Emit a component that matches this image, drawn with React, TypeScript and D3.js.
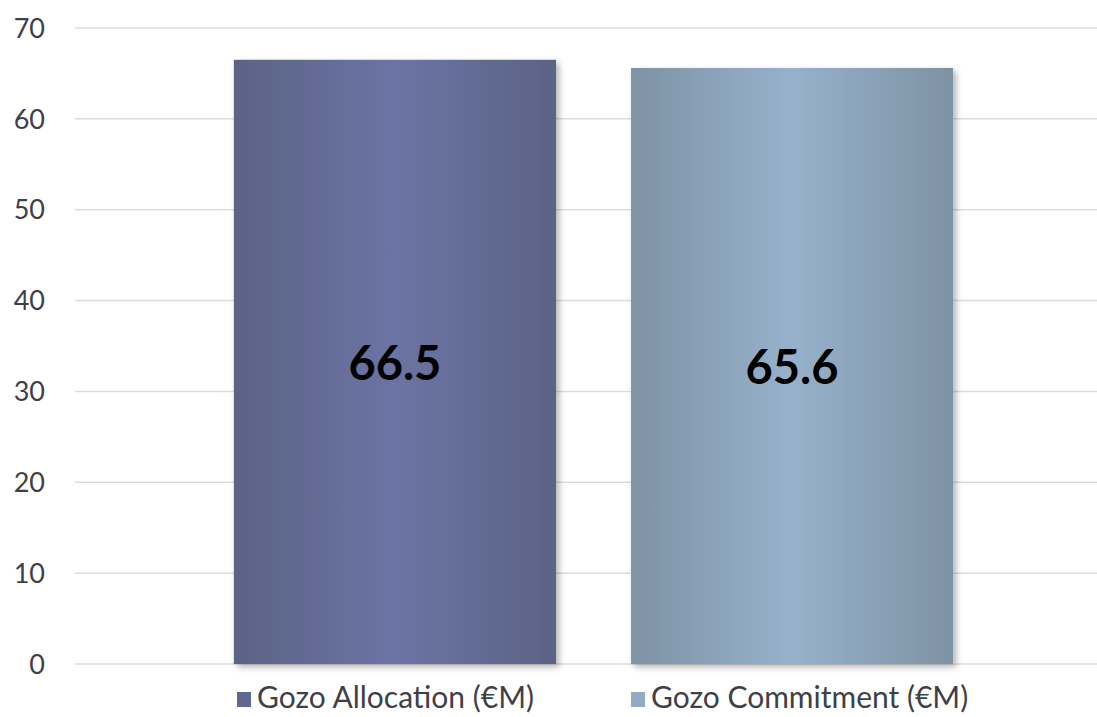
import React from "react";
import * as d3 from "d3";

const seriesNames = ["Gozo Allocation (€M)", "Gozo Commitment (€M)"];
const seriesValues = [66.5, 65.6];
const valueLabels = ["66.5", "65.6"];
const yTicks = [0, 10, 20, 30, 40, 50, 60, 70];

const W = 1097;
const H = 717;
const M = { left: 75, right: 1112, top: 28, bottom: 664 };

const gradStops = [
  [
    { o: 0, c: "#5b6385" },
    { o: 0.5, c: "#6b74a4" },
    { o: 1, c: "#5b6384" },
  ],
  [
    { o: 0, c: "#7e93a4" },
    { o: 0.5, c: "#97b1cc" },
    { o: 1, c: "#7d92a2" },
  ],
];
const legendColors = ["#5f6892", "#91abc5"];

export default function App() {
  const y = d3.scaleLinear().domain([0, 70]).range([M.bottom, M.top]);
  const x = d3
    .scaleBand<string>()
    .domain(seriesNames)
    .range([M.left, M.right])
    .paddingInner(0.189)
    .paddingOuter(0.4);
  const font = "Lato, 'Open Sans', sans-serif";
  const legendX = [237, 631];
  return (
    <svg width={W} height={H} style={{ position: "absolute", left: 0, top: 0 }}>
      <defs>
        {gradStops.map((stops, i) => (
          <linearGradient key={i} id={`g${i}`} x1="0" x2="1" y1="0" y2="0">
            {stops.map((s, j) => (
              <stop key={j} offset={s.o} stopColor={s.c} />
            ))}
          </linearGradient>
        ))}
        <filter id="sh" x="-10%" y="-10%" width="130%" height="130%">
          <feDropShadow dx="3" dy="3" stdDeviation="3" floodColor="#000" floodOpacity="0.3" />
        </filter>
      </defs>
      <rect width={W} height={H} fill="#fff" />
      {yTicks.map((t) => (
        <g key={t}>
          <line x1={M.left} x2={W} y1={y(t)} y2={y(t)} stroke="#dcdcdc" strokeWidth={1.5} />
          <text
            x={45}
            y={y(t)}
            dy="0.36em"
            textAnchor="end"
            fontFamily={font}
            fontSize={27}
            fill="#3f3f48"
          >
            {t}
          </text>
        </g>
      ))}
      {seriesNames.map((s, i) => (
        <rect
          key={s}
          x={x(s)}
          y={y(seriesValues[i])}
          width={x.bandwidth()}
          height={y(0) - y(seriesValues[i])}
          fill={`url(#g${i})`}
          filter="url(#sh)"
        />
      ))}
      {seriesNames.map((s, i) => (
        <text
          key={s}
          x={(x(s) as number) + x.bandwidth() / 2}
          y={(y(seriesValues[i]) + y(0)) / 2}
          dy="0.38em"
          textAnchor="middle"
          fontFamily={font}
          fontWeight="bold"
          fontSize={47}
          fill="#000"
        >
          {valueLabels[i]}
        </text>
      ))}
      {seriesNames.map((s, i) => (
        <g key={s}>
          <rect x={legendX[i]} y={692} width={14} height={15} fill={legendColors[i]} />
          <text
            x={legendX[i] + 20}
            y={708}
            fontFamily={font}
            fontSize={30}
            fill="#3f3f48"
          >
            {s}
          </text>
        </g>
      ))}
    </svg>
  );
}
